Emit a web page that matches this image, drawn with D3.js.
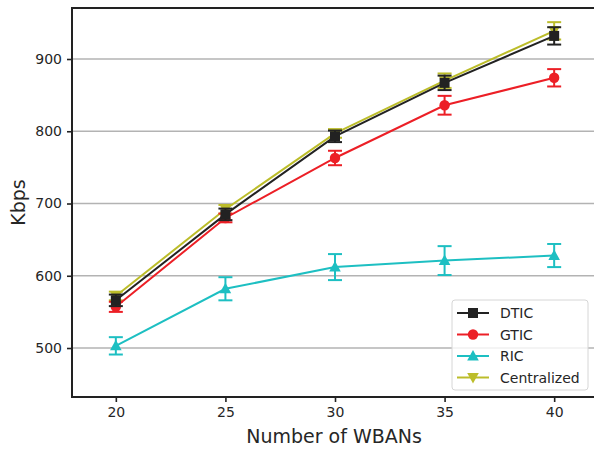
<!DOCTYPE html>
<html>
<head>
<meta charset="utf-8">
<script src="https://cdn.jsdelivr.net/npm/d3@7/dist/d3.min.js"></script>
<style>
  html, body { margin: 0; padding: 0; background: #fff; }
  svg { display: block; font-family: "DejaVu Sans", sans-serif; }
</style>
</head>
<body>
<svg id="chart" width="594" height="449"></svg>
<script>
// Throughput versus network size
const wbans = [20, 25, 30, 35, 40];
const yTicks = [500, 600, 700, 800, 900];

const dticMean = [566, 685, 793, 867, 932];
const dticErr  = [8, 8, 8, 10, 12];
const gticMean = [557, 680, 763, 836, 874];
const gticErr  = [7, 6, 10, 13, 12];
const ricMean  = [503, 582, 612, 621, 628];
const ricErr   = [12, 16, 18, 20, 16];
const centMean = [572, 692, 797, 870, 939];
const centErr  = [6, 6, 6, 10, 12];

const seriesNames  = ["DTIC", "GTIC", "RIC", "Centralized"];
const seriesColors = ["#222222", "#ec1f26", "#1dbfc2", "#bcbd2a"];
const seriesMarks  = ["square", "circle", "triangle", "triangleDown"];

const series = [
  { name: seriesNames[0], mean: dticMean, err: dticErr, color: seriesColors[0], mark: seriesMarks[0] },
  { name: seriesNames[1], mean: gticMean, err: gticErr, color: seriesColors[1], mark: seriesMarks[1] },
  { name: seriesNames[2], mean: ricMean,  err: ricErr,  color: seriesColors[2], mark: seriesMarks[2] },
  { name: seriesNames[3], mean: centMean, err: centErr, color: seriesColors[3], mark: seriesMarks[3] }
];

const svg = d3.select("#chart");
const margin = { left: 72, top: 8, right: 598, bottom: 397 };

const x = d3.scaleLinear().domain([18, 42]).range([margin.left, margin.right]);
const y = d3.scaleLinear().domain([432.2, 970.6]).range([margin.bottom, margin.top]);

// horizontal grid
svg.append("g")
  .selectAll("line")
  .data(yTicks)
  .join("line")
  .attr("x1", margin.left).attr("x2", margin.right)
  .attr("y1", d => y(d)).attr("y2", d => y(d))
  .attr("stroke", "#b3b3b3").attr("stroke-width", 1.6);

// axes
const xAxis = svg.append("g")
  .attr("transform", `translate(0,${margin.bottom})`)
  .call(d3.axisBottom(x).tickValues(wbans).tickSize(5).tickPadding(5).tickSizeOuter(0));
const yAxis = svg.append("g")
  .attr("transform", `translate(${margin.left},0)`)
  .call(d3.axisLeft(y).tickValues(yTicks).tickSize(5).tickPadding(5).tickSizeOuter(0));

[xAxis, yAxis].forEach(a => {
  a.select(".domain").remove();
  a.selectAll(".tick line").attr("stroke", "#222").attr("stroke-width", 1.6);
  a.selectAll(".tick text").attr("fill", "#262626").style("font-size", "14px")
    .style("font-family", "'DejaVu Sans', sans-serif");
});

// spines
svg.append("rect")
  .attr("x", margin.left).attr("y", margin.top)
  .attr("width", margin.right - margin.left).attr("height", margin.bottom - margin.top)
  .attr("fill", "none").attr("stroke", "#222").attr("stroke-width", 2);

// axis titles
svg.append("text")
  .attr("x", 334).attr("y", 443)
  .attr("text-anchor", "middle").attr("fill", "#262626")
  .style("font-size", "19px").text("Number of WBANs");
svg.append("text")
  .attr("transform", `translate(25,${(margin.top + margin.bottom) / 2}) rotate(-90)`)
  .attr("text-anchor", "middle").attr("fill", "#262626")
  .style("font-size", "19px").text("Kbps");

function drawMarker(g, kind, cx, cy, color) {
  if (kind === "square") {
    g.append("rect").attr("x", cx - 5).attr("y", cy - 5).attr("width", 10).attr("height", 10).attr("fill", color);
  } else if (kind === "circle") {
    g.append("circle").attr("cx", cx).attr("cy", cy).attr("r", 5.2).attr("fill", color);
  } else if (kind === "triangle") {
    g.append("path").attr("d", `M${cx},${cy - 6}L${cx + 5.8},${cy + 4.5}L${cx - 5.8},${cy + 4.5}Z`).attr("fill", color);
  } else {
    g.append("path").attr("d", `M${cx},${cy + 6}L${cx + 5.8},${cy - 4.5}L${cx - 5.8},${cy - 4.5}Z`).attr("fill", color);
  }
}

const line = d3.line().x(d => x(d[0])).y(d => y(d[1]));
const drawOrder = [3, 1, 2, 0];
drawOrder.forEach(i => {
  const s = series[i];
  const g = svg.append("g");
  const pts = wbans.map((w, k) => [w, s.mean[k]]);
  g.append("path").attr("d", line(pts)).attr("fill", "none")
    .attr("stroke", s.color).attr("stroke-width", 2);
  wbans.forEach((w, k) => {
    const cx = x(w), lo = y(s.mean[k] - s.err[k]), hi = y(s.mean[k] + s.err[k]);
    g.append("line").attr("x1", cx).attr("x2", cx).attr("y1", lo).attr("y2", hi)
      .attr("stroke", s.color).attr("stroke-width", 2);
    [lo, hi].forEach(yy => g.append("line")
      .attr("x1", cx - 7).attr("x2", cx + 7).attr("y1", yy).attr("y2", yy)
      .attr("stroke", s.color).attr("stroke-width", 2));
    drawMarker(g, s.mark, cx, y(s.mean[k]), s.color);
  });
});

// legend
const lg = svg.append("g").attr("transform", "translate(452,300)");
lg.append("rect").attr("x", 0).attr("y", 0).attr("width", 136).attr("height", 90)
  .attr("rx", 3).attr("fill", "#fff").attr("fill-opacity", 0.8)
  .attr("stroke", "#d6d6d6").attr("stroke-width", 1);
series.forEach((s, i) => {
  const yy = 13 + i * 21.5;
  lg.append("line").attr("x1", 5).attr("x2", 37).attr("y1", yy).attr("y2", yy)
    .attr("stroke", s.color).attr("stroke-width", 2);
  drawMarker(lg, s.mark, 21, yy, s.color);
  lg.append("text").attr("x", 48).attr("y", yy + 5).attr("fill", "#262626")
    .style("font-size", "14px").text(s.name);
});
</script>
</body>
</html>
